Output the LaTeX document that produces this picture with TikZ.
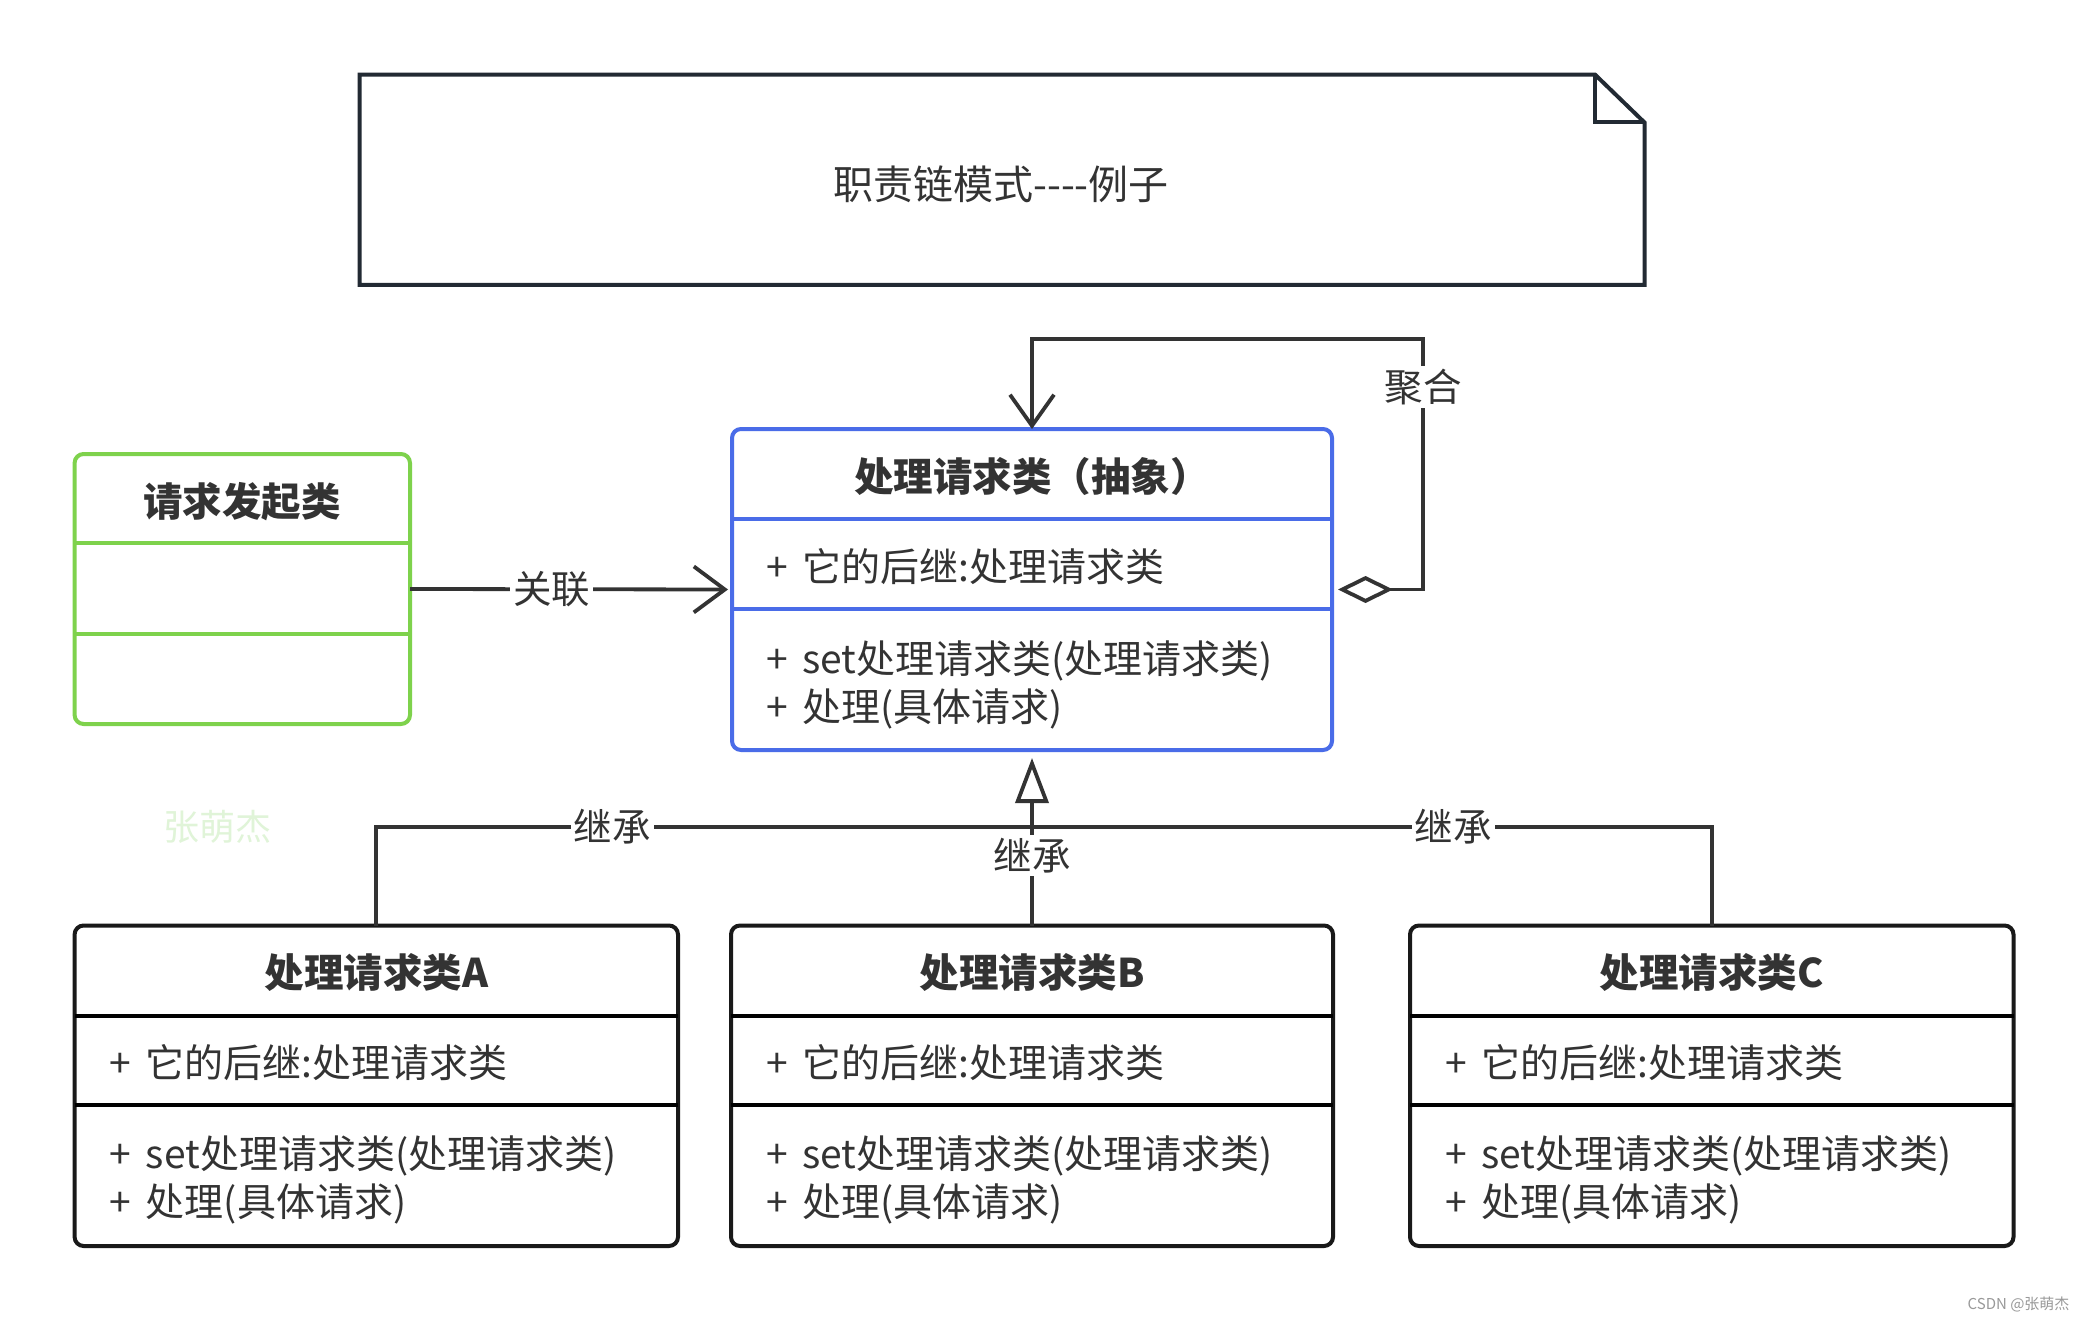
\documentclass[tikz,border=0pt]{standalone}
\usepackage{fontspec}
\setmainfont{Noto Sans CJK SC}
\usetikzlibrary{arrows.meta}
\definecolor{ink}{HTML}{333333}
\definecolor{bluec}{RGB}{74,108,232}
\definecolor{greenc}{RGB}{126,210,76}
\definecolor{notec}{HTML}{222A33}
\definecolor{wmark}{RGB}{224,244,216}
\definecolor{csdn}{HTML}{999999}
\newcommand{\plusgap}{+\hspace{14.5pt}}
\begin{document}
\begin{tikzpicture}[x=1pt,y=-1pt,
  box/.style={draw=black!90, line width=4pt, rounded corners=9pt, inner sep=0pt, outer sep=0pt, anchor=north west},
  reqbox/.style={box, draw=greenc},
  absbox/.style={box, draw=bluec},
  divider/.style={line width=4pt},
  ttl/.style={font=\fontsize{39.5}{46}\selectfont\bfseries, text=ink, inner sep=0pt},
  txt/.style={font=\fontsize{39}{46}\selectfont, text=ink, anchor=west, inner sep=0pt},
  lbl/.style={font=\fontsize{38.5}{46}\selectfont, text=ink, fill=white, inner sep=3pt},
  conn/.style={draw=ink, line width=3.8pt}
]
\useasboundingbox (0,0) rectangle (2088,1321);
\fill[white] (0,0) rectangle (2088,1321);

% note
\draw[draw=notec, line width=4pt, line join=miter]
  (359.5,74.6) -- (1595,74.6) -- (1644.5,122.5) -- (1644.5,285) -- (359.5,285) -- cycle;
\draw[draw=notec, line width=4pt] (1595,74.6) -- (1595,122.5) -- (1644.5,122.5);
\node[font=\fontsize{40}{46}\selectfont, text=ink] (notetext) at (1001,184) {职责链模式-{}-{}-{}-例子};

% request class (green)
\node[reqbox, minimum width=335.4pt, minimum height=270pt] (req) at (74.6,454) {};
\draw[divider, draw=greenc] (req.west |- 0,543) -- (req.east |- 0,543);
\draw[divider, draw=greenc] (req.west |- 0,634) -- (req.east |- 0,634);
\node[ttl] (reqt) at (242,502) {请求发起类};

% abstract handler (blue)
\node[absbox, minimum width=600pt, minimum height=321pt] (abs) at (732,429) {};
\draw[divider, draw=bluec] (abs.west |- 0,519) -- (abs.east |- 0,519);
\draw[divider, draw=bluec] (abs.west |- 0,608.5) -- (abs.east |- 0,608.5);
\node[ttl] (abst) at (1032,476) {处理请求类（抽象）};
\node[txt] (absa) at (766,567) {\plusgap 它的后继:处理请求类};
\node[txt] (absm1) at (766,661) {\plusgap set处理请求类(处理请求类)};
\node[txt] (absm2) at (766,709) {\plusgap 处理(具体请求)};

% concrete handlers
\foreach \n/\x/\w/\s in {A/74.6/603.4/A, B/731/602/B, C/1410/603.5/C}{
  \node[box, minimum width=\w pt, minimum height=320.5pt] (\n) at (\x,925.5) {};
  \draw[divider] (\n.west |- 0,1016) -- (\n.east |- 0,1016);
  \draw[divider] (\n.west |- 0,1105) -- (\n.east |- 0,1105);
  \node[ttl] (\n t) at (\n.north |- 0,972) {处理请求类\s};
  \node[txt] (\n a) at ([xshift=35pt]\n.west |- 0,1063) {\plusgap 它的后继:处理请求类};
  \node[txt] (\n m1) at ([xshift=35pt]\n.west |- 0,1156) {\plusgap set处理请求类(处理请求类)};
  \node[txt] (\n m2) at ([xshift=35pt]\n.west |- 0,1204) {\plusgap 处理(具体请求)};
}

% association
\draw[conn, -{Straight Barb[length=31pt, width=46pt]}, shorten >=4pt]
  (req.east) -- node[lbl, pos=0.44] {关联} (abs.west);

% aggregation (self)
\draw[conn, {Diamond[open, length=55pt, width=27pt]}-{Straight Barb[length=31pt, width=44pt]}, shorten <=6pt]
  (abs.east) -- (1423,589.5) -- node[lbl, pos=0.81] {聚合} (1423,339) -- (abs.north |- 0,339) -- (abs.north);

% inheritance
\coordinate (jn) at (1032,827);
\draw[conn, -{Triangle[open, length=45pt, width=33pt]}, shorten >=8pt]
  (B.north) -- node[lbl, pos=0.4] {继承} (abs.south);
\draw[conn] (A.north) |- node[lbl, pos=0.68] {继承} (jn);
\draw[conn] (C.north) |- node[lbl, pos=0.69] {继承} (jn);

% watermarks
\node[font=\fontsize{36}{40}\selectfont, text=wmark] (wm) at (217,827) {张萌杰};
\node[font=\fontsize{15}{18}\selectfont, text=csdn, anchor=east] (csdnwm) at (2073,1304) {CSDN @张萌杰};
\end{tikzpicture}
\end{document}
